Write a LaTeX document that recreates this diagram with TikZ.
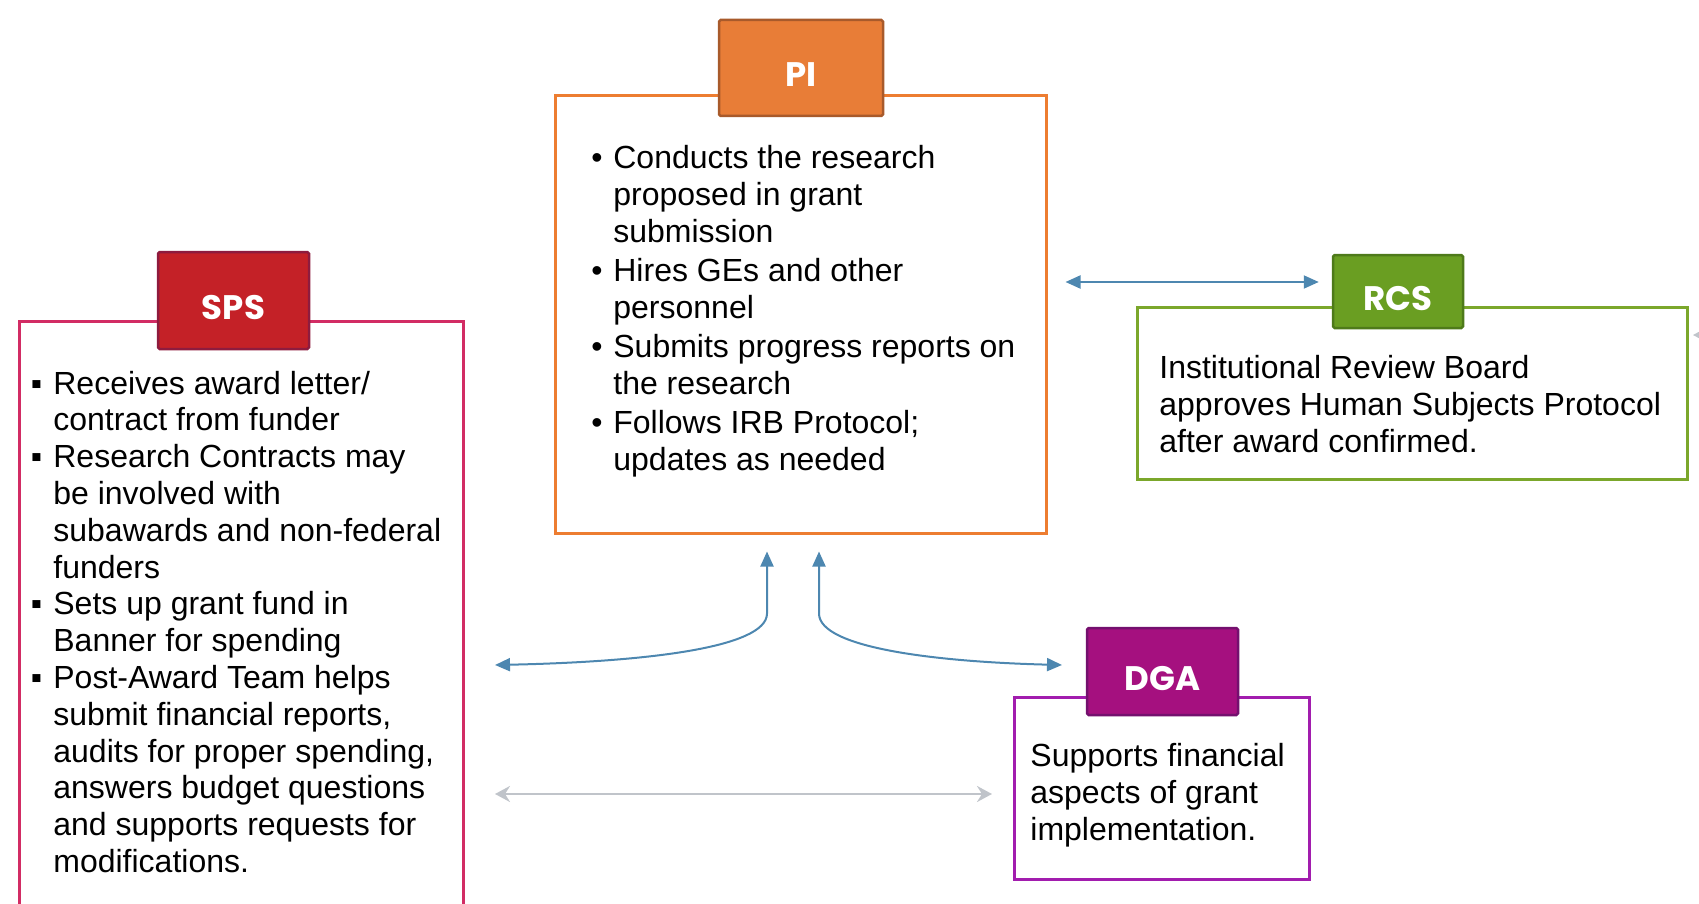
\documentclass[tikz,border=0pt]{standalone}
\usepackage{fontspec}
\setmainfont{Liberation Sans}
\newfontfamily\headfont{Poppins}
\usetikzlibrary{arrows.meta}

\definecolor{piorange}{HTML}{E87D37}
\definecolor{piedge}{HTML}{A85A2B}
\definecolor{piline}{HTML}{ED7D31}
\definecolor{spsred}{HTML}{C42127}
\definecolor{spsedge}{HTML}{8E1B3E}
\definecolor{spsline}{HTML}{D22C64}
\definecolor{rcsgreen}{HTML}{6A9E22}
\definecolor{rcsedge}{HTML}{4E7A1A}
\definecolor{rcsline}{HTML}{7BA72B}
\definecolor{dgapurple}{HTML}{A5107F}
\definecolor{dgaedge}{HTML}{74106E}
\definecolor{dgaline}{HTML}{A21DAE}
\definecolor{arrowblue}{HTML}{4D87B0}
\definecolor{arrowgray}{HTML}{C0C4CA}

\tikzset{
  headbox/.style={draw, line width=1.25pt, rounded corners=0.8pt, text=white,
    text height=19pt, text depth=0pt,
    font=\headfont\bfseries\fontsize{17}{20}\selectfont},
  infobox/.style={draw, line width=1.5pt, fill=white},
  bodytext/.style={anchor=north west, inner sep=0pt, font=\fontsize{16}{18.4}\selectfont},
  bluearr/.style={draw=arrowblue, line width=1pt,
    {Triangle[length=7.5pt,width=6.5pt]}-{Triangle[length=7.5pt,width=6.5pt]}},
  grayarr/.style={draw=arrowgray, line width=1.3pt,
    {Stealth[length=7.5pt,width=8pt,inset=2.5pt]}-{Stealth[length=7.5pt,width=8pt,inset=2.5pt]}}
}
\newcommand{\pidot}{\makebox[11pt][l]{\textbullet}}
\newcommand{\spssq}{\makebox[11.2pt][l]{▪}}

\begin{document}
\begin{tikzpicture}[x=0.5pt,y=-0.5pt]
  \clip (0,0) rectangle (1699,904);

  \node[infobox, draw=piline, minimum width=245.5pt, minimum height=218.5pt] (pibox) at (800.5,314.5) {};
  \node[headbox, fill=piorange, draw=piedge, minimum width=82pt, minimum height=48pt] (pihead) at (801,68) {PI};
  \node[bodytext] (pitext) at (591,142.6) {\begin{tabular}{@{}l@{}l@{}}
    \pidot & Conducts the research\\ & proposed in grant\\ & submission\\[1.2pt]
    \pidot & Hires GEs and other\\ & personnel\\[1.2pt]
    \pidot & Submits progress reports on\\ & the research\\[1.2pt]
    \pidot & Follows IRB Protocol;\\ & updates as needed
  \end{tabular}};

  \node[infobox, draw=spsline, minimum width=222pt, minimum height=309.5pt] (spsbox) at (241,630.5) {};
  \node[headbox, fill=spsred, draw=spsedge, minimum width=75.5pt, minimum height=48.5pt] (spshead) at (233.5,300.5) {SPS};
  \node[bodytext] (spstext) at (30.6,368) {\begin{tabular}{@{}l@{}l@{}}
    \spssq & Receives award letter/\\ & contract from funder\\
    \spssq & Research Contracts may\\ & be involved with\\ & subawards and non-federal\\ & funders\\
    \spssq & Sets up grant fund in\\ & Banner for spending\\
    \spssq & Post-Award Team helps\\ & submit financial reports,\\ & audits for proper spending,\\
      & answers budget questions\\ & and supports requests for\\ & modifications.
  \end{tabular}};

  \node[infobox, draw=rcsline, minimum width=275pt, minimum height=86pt] (rcsbox) at (1412,393) {};
  \node[headbox, fill=rcsgreen, draw=rcsedge, minimum width=65pt, minimum height=36.5pt] (rcshead) at (1398,291.5) {RCS};
  \node[bodytext] (rcstext) at (1159,352.6) {\begin{tabular}{@{}l@{}}
    Institutional Review Board\\ approves Human Subjects Protocol\\ after award confirmed.
  \end{tabular}};

  \node[infobox, draw=dgaline, minimum width=147.5pt, minimum height=91pt] (dgabox) at (1161.5,788) {};
  \node[headbox, fill=dgapurple, draw=dgaedge, minimum width=75.5pt, minimum height=43.5pt] (dgahead) at (1162.5,671.5) {DGA};
  \node[bodytext] (dgatext) at (1030,740.6) {\begin{tabular}{@{}l@{}}
    Supports financial\\ aspects of grant\\ implementation.
  \end{tabular}};

  \coordinate (spsend) at (495,665);
  \coordinate (dgaend) at (1062,665);
  \coordinate (grayleft) at (495,794);
  \coordinate (grayright) at (992,794);
  \coordinate (rcsfar) at (1770,335);
  \coordinate (rcsnear) at (1693,335);

  \draw[bluearr, shorten >=6.5pt] ([xshift=9pt,yshift=16.25pt]pibox.east) -- ([yshift=16.25pt]pibox.east -| rcshead.west);
  \draw[bluearr] ([xshift=-16.75pt,yshift=-8.5pt]pibox.south) -- ++(0,62) .. controls ++(0,35) and (640,662) .. (spsend);
  \draw[bluearr] ([xshift=9.25pt,yshift=-8.5pt]pibox.south) -- ++(0,62) .. controls ++(0,35) and (940,662) .. (dgaend);
  \draw[grayarr] (grayleft) -- (grayright);
  \draw[grayarr] (rcsfar) -- (rcsnear);
\end{tikzpicture}
\end{document}
